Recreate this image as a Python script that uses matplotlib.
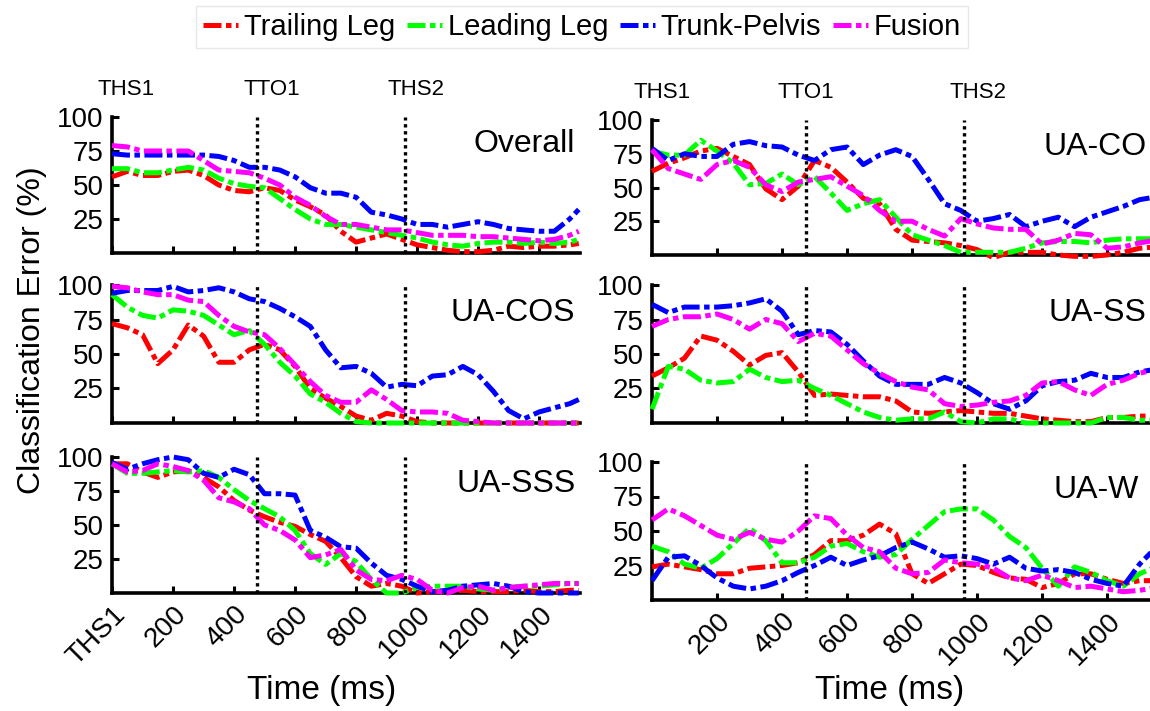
import matplotlib
matplotlib.use("Agg")
import matplotlib.pyplot as plt
import matplotlib.transforms as mtransforms
from matplotlib.lines import Line2D

plt.rcParams["font.family"] = ["Liberation Sans", "DejaVu Sans"]

# Series names and colours (MATLAB style pure colours)
SERIES = ["Trailing Leg", "Leading Leg", "Trunk-Pelvis", "Fusion"]
COLORS = ["#ff0000", "#00ff00", "#0000ff", "#ff00ff"]

# time samples (ms)
TIME_LEFT = list(range(0, 1501, 50)) + [1530]
TIME_RIGHT = list(range(0, 1551, 50))

# gait events
EVENT_LINES = [474, 960]
EVENT_NAMES = ["THS1", "TTO1", "THS2"]
EVENT_TEXT_X_LEFT = [-49, 430, 902]
EVENT_TEXT_X_RIGHT = [-57, 385, 915]

XTICKS_LEFT = [0, 200, 400, 600, 800, 1000, 1200, 1400]
XTICKLABELS_LEFT = ["THS1", "200", "400", "600", "800", "1000", "1200", "1400"]
XTICKS_RIGHT = [200, 400, 600, 800, 1000, 1200, 1400]
XTICKLABELS_RIGHT = ["200", "400", "600", "800", "1000", "1200", "1400"]
YTICKS = [25, 50, 75, 100]

# panel names as far as they are visible (right column is cropped in the source)
PANEL_NAMES = ["Overall", "UA-COS", "UA-SSS", "UA-CO", "UA-SS", "UA-W"]

# ---- Overall
overall_trailing = [56, 60, 57, 57, 60, 61, 57, 50, 46, 45, 48, 46, 39, 34, 28, 16,
                    8, 11, 14, 10, 6, 4, 2, 1, 1, 2, 5, 4, 5, 5, 6, 7]
overall_leading = [62, 62, 59, 59, 61, 63, 61, 55, 51, 49, 48, 40, 32, 25, 21, 21,
                   19, 17, 15, 13, 11, 8, 6, 5, 7, 8, 8, 7, 8, 7, 8, 10]
overall_trunk = [73, 72, 72, 72, 72, 72, 72, 71, 68, 63, 63, 61, 56, 48, 44, 44,
                 41, 30, 28, 25, 21, 21, 19, 21, 23, 21, 18, 17, 16, 16, 25, 32]
overall_fusion = [79, 78, 75, 75, 75, 75, 68, 61, 60, 59, 55, 50, 41, 35, 27, 21,
                  21, 19, 17, 17, 15, 13, 13, 13, 12, 12, 11, 10, 9, 10, 13, 16]

# ---- UA-COS (left)
cos_trailing = [72, 69, 64, 43, 53, 71, 63, 44, 44, 53, 57, 53, 41, 25, 18, 12,
                5, 2, 7, 5, 1, 0, 0, 0, 0, 0, 0, 0, 0, 0, 0, 0]
cos_leading = [93, 84, 78, 76, 82, 81, 78, 71, 64, 67, 57, 44, 34, 21, 15, 7,
               1, 0, 0, 0, 0, 0, 0, 0, 0, 0, 0, 0, 0, 0, 0, 0]
cos_trunk = [94, 96, 96, 96, 99, 95, 96, 98, 95, 90, 88, 83, 77, 70, 53, 40,
             41, 36, 26, 28, 27, 34, 35, 41, 35, 23, 9, 3, 8, 11, 14, 17]
cos_fusion = [99, 98, 95, 93, 93, 89, 88, 78, 70, 66, 64, 54, 42, 30, 20, 15,
              15, 24, 17, 9, 8, 8, 7, 2, 1, 0, 0, 0, 0, 0, 0, 0]

# ---- UA-SSS (left)
sss_trailing = [95, 95, 89, 85, 89, 90, 85, 78, 68, 61, 56, 52, 49, 43, 38, 26,
                12, 5, 7, 5, 0, 1, 1, 2, 1, 1, 1, 2, 1, 1, 2, 2]
sss_leading = [95, 88, 88, 89, 90, 89, 90, 85, 76, 68, 62, 56, 46, 29, 21, 29,
               23, 10, 0, 0, 4, 5, 5, 5, 3, 2, 4, 5, 5, 6, 7, 7]
sss_trunk = [96, 91, 95, 98, 100, 98, 88, 85, 91, 87, 73, 73, 72, 46, 41, 34,
             33, 22, 13, 10, 5, 1, 2, 5, 6, 7, 5, 1, 0, 0, 0, 0]
sss_fusion = [95, 89, 90, 95, 93, 90, 83, 70, 67, 62, 50, 46, 39, 26, 28, 32,
              17, 10, 9, 13, 10, 2, 0, 4, 5, 2, 4, 5, 6, 7, 7, 7]

# ---- right column, top
rco_trailing = [62, 68, 72, 77, 79, 73, 67, 49, 41, 51, 70, 65, 54, 42, 38, 19,
                11, 10, 9, 7, 4, -2, 2, 2, 2, 0, -1, -1, 0, 2, 5, 6]
rco_leading = [77, 74, 74, 85, 77, 68, 52, 53, 60, 52, 58, 46, 33, 38, 41, 28,
               15, 11, 7, 2, 2, 2, 2, 5, 9, 10, 10, 9, 11, 12, 12, 12]
rco_trunk = [79, 70, 75, 73, 73, 82, 84, 81, 80, 74, 70, 78, 80, 67, 74, 78,
             73, 56, 38, 33, 25, 27, 30, 21, 25, 28, 21, 28, 32, 36, 41, 43]
rco_fusion = [78, 64, 60, 56, 67, 70, 65, 52, 47, 54, 56, 58, 51, 44, 33, 25,
              25, 19, 14, 27, 23, 20, 19, 19, 8, 11, 16, 15, 5, 6, 9, 11]

# ---- right column, middle
rss_trailing = [34, 40, 47, 63, 60, 52, 42, 49, 51, 37, 20, 21, 20, 19, 19, 16,
                8, 7, 8, 9, 8, 7, 7, 5, 3, 2, 1, 1, 4, 4, 5, 5]
rss_leading = [10, 41, 39, 31, 29, 30, 39, 33, 30, 31, 25, 20, 14, 8, 4, 2,
               3, 3, 8, 1, 0, 3, 3, 0, 0, 0, 0, 0, 4, 4, 2, 2]
rss_trunk = [86, 80, 84, 84, 84, 85, 87, 90, 81, 64, 67, 66, 57, 45, 34, 28,
             28, 28, 33, 29, 22, 14, 10, 16, 27, 30, 31, 36, 33, 33, 37, 39]
rss_fusion = [70, 75, 77, 77, 79, 75, 68, 75, 72, 59, 65, 63, 53, 43, 36, 30,
              26, 24, 14, 12, 13, 15, 16, 20, 29, 30, 24, 20, 28, 31, 36, 39]

# ---- right column, bottom
rw_trailing = [24, 26, 24, 22, 19, 19, 23, 24, 25, 27, 33, 43, 43, 47, 55, 48,
               19, 12, 19, 26, 25, 20, 16, 15, 9, 12, 19, 19, 15, 12, 14, 14]
rw_leading = [39, 35, 26, 23, 30, 41, 52, 43, 27, 27, 31, 39, 41, 35, 31, 33,
              44, 54, 64, 66, 66, 58, 46, 38, 23, 10, 24, 20, 14, 10, 19, 24]
rw_trunk = [14, 31, 32, 25, 16, 10, 8, 10, 14, 20, 25, 31, 25, 29, 32, 38,
            42, 37, 31, 32, 30, 26, 31, 23, 21, 22, 20, 15, 12, 10, 26, 38]
rw_fusion = [58, 66, 61, 54, 47, 44, 49, 44, 42, 50, 61, 59, 47, 38, 35, 23,
             19, 20, 29, 27, 26, 23, 16, 14, 18, 14, 9, 10, 8, 6, 7, 9]

PANEL_DATA = [
    [overall_trailing, overall_leading, overall_trunk, overall_fusion],
    [cos_trailing, cos_leading, cos_trunk, cos_fusion],
    [sss_trailing, sss_leading, sss_trunk, sss_fusion],
    [rco_trailing, rco_leading, rco_trunk, rco_fusion],
    [rss_trailing, rss_leading, rss_trunk, rss_fusion],
    [rw_trailing, rw_leading, rw_trunk, rw_fusion],
]

W, H = 1150, 711


def rect(x0, x1, y_top, y_bot):
    return [x0 / W, 1 - y_bot / H, (x1 - x0) / W, (y_bot - y_top) / H]


# axes rectangles in pixels (left, right, top, bottom); the right column runs
# past the picture edge, as in the reference
RECTS = [
    rect(112, 580, 117, 253),
    rect(112, 580, 285, 423),
    rect(112, 580, 457, 593),
    rect(652, 1177, 120, 255),
    rect(652, 1177, 285, 423),
    rect(652, 1177, 462, 600),
]

LINESTYLE = (0, (3.6, 0.9, 1.1, 0.9))
LW = 3.6

fig = plt.figure(figsize=(W / 100, H / 100), dpi=100)

for i, r in enumerate(RECTS):
    ax = fig.add_axes(r)
    left = i < 3
    t = TIME_LEFT if left else TIME_RIGHT
    for vals, color in zip(PANEL_DATA[i], COLORS):
        ax.plot(t, vals, color=color, lw=LW, linestyle=LINESTYLE,
                clip_on=False, zorder=3)
    for xe in EVENT_LINES:
        ax.axvline(xe, color="black", lw=2.4, linestyle=(0, (1, 1.1)), zorder=4)

    ax.set_xlim(0, 1534 if left else 1615)
    ax.set_ylim(0, 100)
    ax.spines["top"].set_visible(False)
    ax.spines["right"].set_visible(False)
    ax.spines["left"].set_linewidth(2.6)
    ax.spines["bottom"].set_linewidth(2.6)
    ax.set_yticks(YTICKS)
    ax.set_yticklabels([str(v) for v in YTICKS])
    ax.tick_params(axis="both", direction="in", length=5, width=2.2,
                   labelsize=20, pad=6)

    ax.set_xticks(XTICKS_LEFT if left else XTICKS_RIGHT)
    if i in (2, 5):
        ax.set_xticklabels(XTICKLABELS_LEFT if left else XTICKLABELS_RIGHT,
                           rotation=45, ha="right", va="top",
                           rotation_mode="anchor", fontsize=20)
    else:
        ax.set_xticklabels([])

    if left:
        ax.text(0.99, 0.8, PANEL_NAMES[i], transform=ax.transAxes,
                ha="right", va="center", fontsize=23)
    else:
        # same start as in the cropped reference, kept inside the picture
        ax.text(0.745 + 0.01 * (i - 3), 0.8, PANEL_NAMES[i], transform=ax.transAxes,
                ha="left", va="center", fontsize=23)

    if i in (0, 3):
        trans = mtransforms.blended_transform_factory(ax.transData, ax.transAxes)
        xs = EVENT_TEXT_X_LEFT if left else EVENT_TEXT_X_RIGHT
        for xt, name in zip(xs, EVENT_NAMES):
            ax.text(xt, 1.2, name, transform=trans, ha="left", va="center",
                    fontsize=16)

fig.text(32 / W, 1 - 330 / H, "Classification Error (%)", rotation=90,
         ha="center", va="center", fontsize=23)
fig.text(322 / W, 1 - 690 / H, "Time (ms)", ha="center", va="center", fontsize=24)
fig.text(890 / W, 1 - 690 / H, "Time (ms)", ha="center", va="center", fontsize=24)

handles = [Line2D([0], [0], color=c, lw=LW, linestyle=LINESTYLE) for c in COLORS]
fig.legend(handles, SERIES, loc="center", bbox_to_anchor=(582 / W, 1 - 27 / H),
           ncol=4, fontsize=21, handlelength=1.2, handletextpad=0.2,
           columnspacing=0.4, borderpad=0.25, frameon=True, fancybox=False,
           edgecolor="#e8e8e8", framealpha=1)

fig.savefig("out.png", dpi=100)
